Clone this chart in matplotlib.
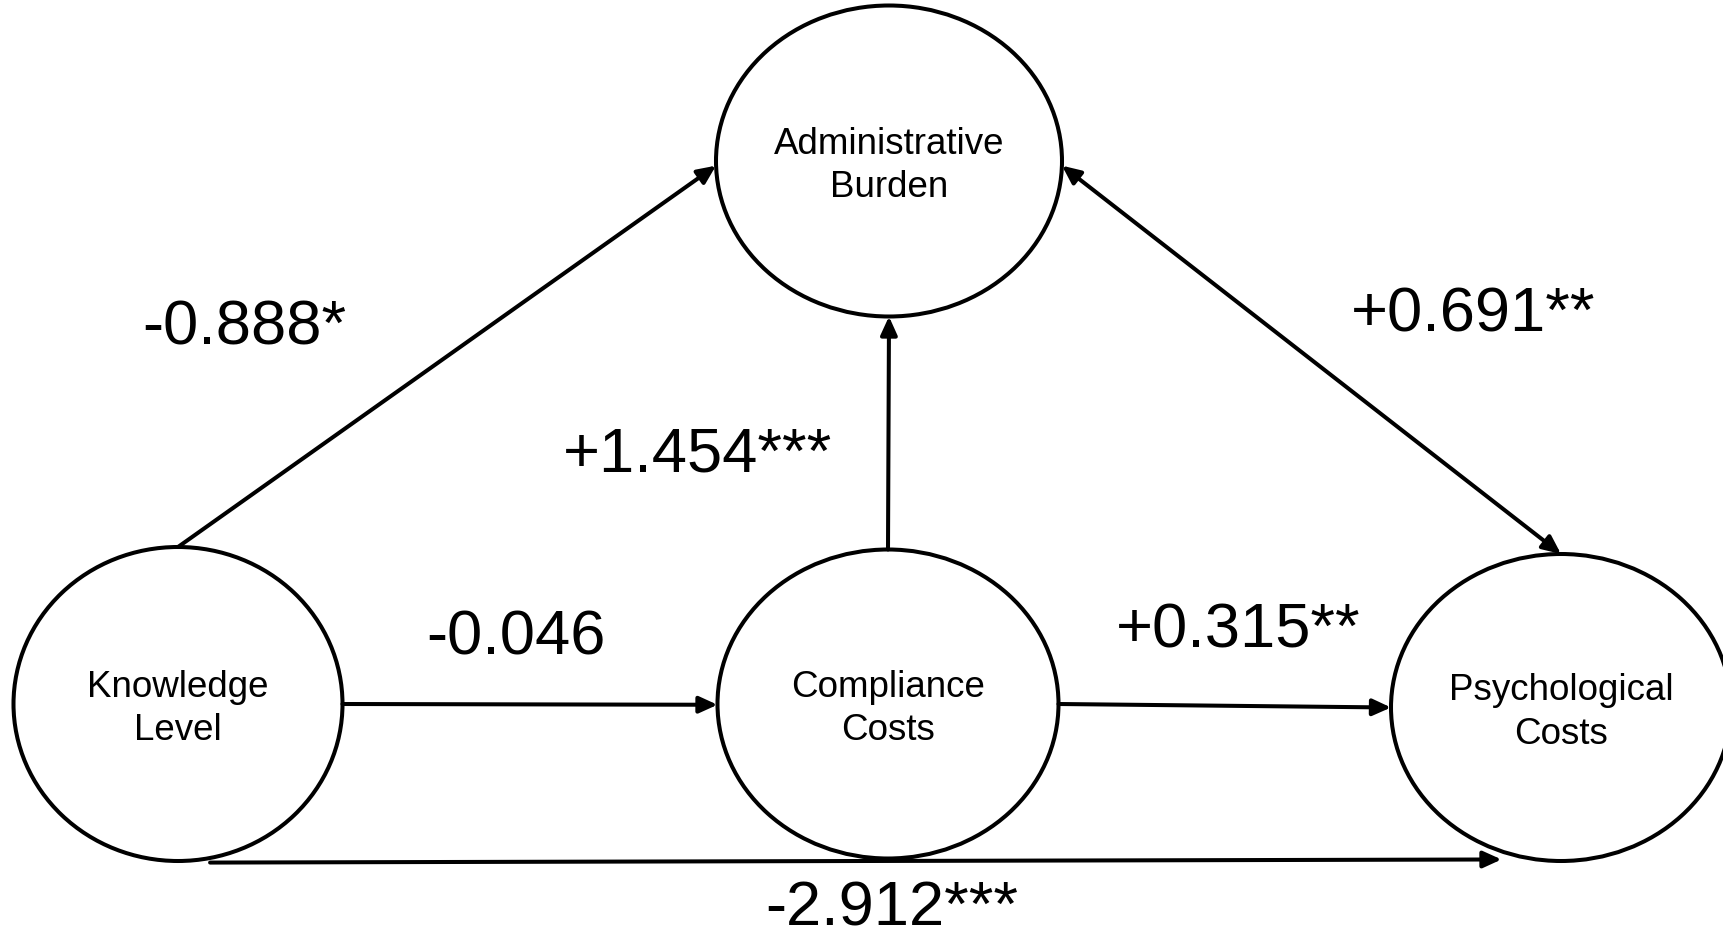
import matplotlib
matplotlib.use("Agg")
import matplotlib.pyplot as plt
from matplotlib.patches import Ellipse, FancyArrowPatch

# ---------------- data ----------------
node_names = ["Knowledge\nLevel", "Compliance\nCosts", "Administrative\nBurden", "Psychological\nCosts"]
edge_source = [0, 1, 2, 0, 1, 0]
edge_target = [2, 2, 3, 1, 3, 3]
coefficients = [-0.888, 1.454, 0.691, -0.046, 0.315, -2.912]
significance = ["*", "***", "**", "", "**", "***"]
bidirectional = [False, False, True, False, False, False]

# ---------------- layout (pixel space) ----------------
node_center = [(178, 705), (888, 705), (889, 162), (1561, 708.5)]
node_size = [(329, 314), (341, 309), (346, 311), (340, 307)]
# anchors as fractions of the semi-axes (x right, y down)
edge_start_anchor = [(0, -1), (0, -1), (1, 0.03), (1, 0), (1, 0), (0.195, 1.01)]
edge_end_anchor = [(-1, 0.03), (0, 1), (0, -1), (-1, 0.005), (-1, 0), (-0.35, 0.99)]
label_pos = [(244, 328), (698, 455), (1473, 315), (516, 638), (1238, 631), (892, 909)]

FONT = ["Liberation Sans", "DejaVu Sans"]

fig = plt.figure(figsize=(17.24, 9.37), dpi=100)
ax = fig.add_axes([0, 0, 1, 1])
ax.set_xlim(0, 1724)
ax.set_ylim(937, 0)
ax.axis("off")


def anchor(i, f):
    cx, cy = node_center[i]
    w, h = node_size[i]
    return (cx + f[0] * w / 2, cy + f[1] * h / 2)


for i, name in enumerate(node_names):
    w, h = node_size[i]
    ax.add_patch(Ellipse(node_center[i], w, h, facecolor="white",
                         edgecolor="black", linewidth=2.9, zorder=2))
    ax.text(node_center[i][0], node_center[i][1] + 4, name, ha="center", va="center",
            fontsize=26.5, family=FONT, linespacing=1.3, zorder=4)

for k in range(len(coefficients)):
    p0 = anchor(edge_source[k], edge_start_anchor[k])
    p1 = anchor(edge_target[k], edge_end_anchor[k])
    style = "<|-|>" if bidirectional[k] else "-|>"
    arr = FancyArrowPatch(p0, p1,
                          arrowstyle=f"{style},head_length=0.55,head_width=0.25",
                          mutation_scale=20, color="black", linewidth=2.9,
                          shrinkA=0, shrinkB=0, zorder=3)
    ax.add_patch(arr)
    label = f"{coefficients[k]:+.3f}{significance[k]}"
    ax.text(label_pos[k][0], label_pos[k][1], label, ha="center", va="center",
            fontsize=45.5, family=FONT, zorder=4)

fig.savefig("out.png", dpi=100, facecolor="white")
